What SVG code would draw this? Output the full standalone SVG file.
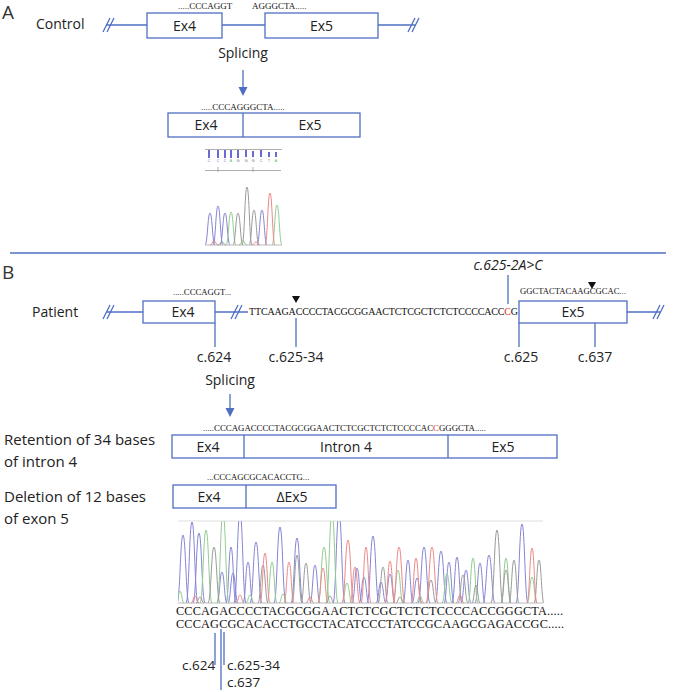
<svg xmlns="http://www.w3.org/2000/svg" xmlns:xlink="http://www.w3.org/1999/xlink" width="673" height="692" viewBox="0 0 673 692">
<style>
.ln{stroke:#4f6fc4;stroke-width:1.3;fill:none}
.box{fill:#fff;stroke:#4f6fc4;stroke-width:1.3}
.lab{font-family:"Open Sans",sans-serif;font-size:14px;fill:#222}
.lab2{font-family:"Open Sans",sans-serif;font-size:15px;fill:#222}
.lab3{font-family:"Open Sans",sans-serif;font-size:13.5px;fill:#222}
.big{font-family:"Open Sans",sans-serif;font-size:19px;fill:#333}
.seq{font-family:"Liberation Serif",serif;fill:#111}
.red{fill:#e0302a}
.pb{stroke:#8585d6;fill:none}
.pg{stroke:#92cc92;fill:none}
.pk{stroke:#9a9a9a;fill:none}
.pr{stroke:#ee8888;fill:none}
.tri{fill:#111}
.ah{fill:#4f6fc4}
</style>
<defs>
<path id="pk" d="M-1,0 C-0.5,0 -0.45,-1 0,-1 C0.45,-1 0.5,0 1,0" vector-effect="non-scaling-stroke" stroke-width="1"/>
<clipPath id="cb"><rect x="178" y="521" width="366" height="84"/></clipPath>
</defs>

<!-- Panel A -->
<text class="big" x="2" y="19">A</text>
<g id="control">
<text class="lab" x="36" y="29">Control</text>
<line class="ln" x1="106" y1="25" x2="147" y2="25"/>
<line class="ln" x1="222" y1="25" x2="265" y2="25"/>
<line class="ln" x1="378" y1="25" x2="415" y2="25"/>
<path class="ln" d="M103,32 L110,18 M107,32 L114,18"/>
<path class="ln" d="M408,32 L415,18 M412,32 L419,18"/>
</g>
<g id="ctrl-ex4">
<rect class="box" x="147" y="13" width="75" height="25"/>
<text class="lab" x="184.5" y="31" text-anchor="middle">Ex4</text>
<text class="seq" x="178" y="9" font-size="9">.....CCCAGGT</text>
</g>
<g id="ctrl-ex5">
<rect class="box" x="265" y="13" width="113" height="25"/>
<text class="lab" x="321.5" y="31" text-anchor="middle">Ex5</text>
<text class="seq" x="252" y="9" font-size="9">AGGGCTA.....</text>
</g>
<g id="splicing-a">
<text class="lab" x="243" y="58" text-anchor="middle">Splicing</text>
</g>
<g id="ctrl-spliced">
<text class="seq" x="201" y="110" font-size="9">.....CCCAGGGCTA.....</text>
<rect class="box" x="168" y="113" width="192" height="24"/>
<line class="ln" x1="243" y1="113" x2="243" y2="137"/>
<text class="lab" x="206" y="130" text-anchor="middle">Ex4</text>
<text class="lab" x="310" y="130" text-anchor="middle">Ex5</text>
</g>
<g id="chrom-a">
<line x1="205" y1="149.5" x2="282" y2="149.5" stroke="#999" stroke-width="0.8"/>
<g fill="#6a6ad0">
<rect x="208" y="150" width="2" height="8"/><rect x="217" y="150" width="2" height="8"/><rect x="224" y="150" width="2" height="8"/><rect x="230" y="150" width="2" height="8"/><rect x="237" y="150" width="2" height="8"/><rect x="245" y="150" width="2" height="7"/><rect x="252" y="151" width="2" height="6"/><rect x="260" y="150" width="2" height="7"/><rect x="268" y="152" width="2" height="5"/><rect x="275" y="152" width="2" height="5"/>
</g>
<g font-family="Liberation Sans, sans-serif" font-size="3.5" text-anchor="middle">
<text x="209" y="162" fill="#6a6ad0">C</text><text x="218" y="162" fill="#6a6ad0">C</text><text x="225" y="162" fill="#6a6ad0">C</text><text x="231" y="162" fill="#5cb85c">A</text><text x="238" y="162" fill="#555">G</text><text x="246" y="162" fill="#555">G</text><text x="253" y="162" fill="#555">G</text><text x="261" y="162" fill="#6a6ad0">C</text><text x="269" y="162" fill="#e05050">T</text><text x="276" y="162" fill="#5cb85c">A</text>
</g>
<line x1="205" y1="170.5" x2="281" y2="170.5" stroke="#999" stroke-width="0.8"/>
<path d="M218,167 V172 M253,167 V172" stroke="#999" stroke-width="0.8"/>
<use href="#pk" class="pb" transform="translate(210,245) scale(5,32)"/>
<use href="#pk" class="pb" transform="translate(218,245) scale(5,39)"/>
<use href="#pk" class="pb" transform="translate(225,245) scale(5,32)"/>
<use href="#pk" class="pb" transform="translate(262,245) scale(5,35)"/>
<use href="#pk" class="pg" transform="translate(231,245) scale(5,33)"/>
<use href="#pk" class="pg" transform="translate(277,245) scale(5,40)"/>
<use href="#pk" class="pk" transform="translate(238,245) scale(5,32)"/>
<use href="#pk" class="pk" transform="translate(247,245) scale(5,58)"/>
<use href="#pk" class="pk" transform="translate(254,245) scale(5,35)"/>
<use href="#pk" class="pr" transform="translate(270,245) scale(5,52)"/>
<use href="#pk" class="pr" transform="translate(214,245) scale(4,4)"/>
<use href="#pk" class="pg" transform="translate(243,245) scale(4,4)"/>
<use href="#pk" class="pk" transform="translate(222,245) scale(4,3)"/>
<use href="#pk" class="pr" transform="translate(256,245) scale(4,3)"/>
<line x1="205" y1="245" x2="282" y2="245" stroke="#aaa" stroke-width="0.8"/>
</g>

<line x1="10" y1="253" x2="666" y2="253" stroke="#4f6fc4" stroke-width="1.3"/>

<!-- Panel B -->
<text class="big" x="2" y="279">B</text>
<g id="patient">
<text class="lab" x="32" y="317">Patient</text>
<line class="ln" x1="106" y1="312" x2="143" y2="312"/>
<line class="ln" x1="215" y1="312" x2="248" y2="312"/>
<line class="ln" x1="627" y1="312" x2="660" y2="312"/>
<path class="ln" d="M103,319 L110,305 M107,319 L114,305"/>
<path class="ln" d="M231,319 L238,305 M235,319 L242,305"/>
<path class="ln" d="M653,319 L660,305 M657,319 L664,305"/>
<text class="seq" x="249" y="315" font-size="10" textLength="269" lengthAdjust="spacing">TTCAAGACCCCTACGCGGAACTCTCGCTCTCTCCCCACC<tspan class="red">C</tspan>G</text>
<path class="tri" d="M292,296 L300,296 L296,303 Z"/>
</g>
<g id="pat-ex4">
<rect class="box" x="143" y="301" width="72" height="22"/>
<text class="lab" x="183" y="317" text-anchor="middle">Ex4</text>
<text class="seq" x="173" y="295" font-size="8.7">.....CCCAGGT...</text>
</g>
<g id="pat-ex5">
<rect class="box" x="519" y="301" width="108" height="22"/>
<text class="lab" x="573" y="317" text-anchor="middle">Ex5</text>
<text class="seq" x="520" y="294" font-size="8.6">GGCTACTACAAGCGCAC...</text>
<path class="tri" d="M588,282 L596,282 L592,289 Z"/>
</g>
<g id="mutation">
<text class="lab" x="508" y="270" text-anchor="middle" font-style="italic">c.625-2A&gt;C</text>
</g>
<g id="pos-labels">
<text class="lab" x="214" y="362" text-anchor="middle">c.624</text>
<text class="lab" x="296" y="362" text-anchor="middle">c.625-34</text>
<text class="lab" x="521" y="362" text-anchor="middle">c.625</text>
<text class="lab" x="595" y="362" text-anchor="middle">c.637</text>
</g>
<g id="splicing-b">
<text class="lab" x="230" y="385" text-anchor="middle">Splicing</text>
</g>
<g id="retention">
<text class="lab2" x="4" y="445">Retention of 34 bases</text>
<text class="lab2" x="4" y="467">of intron 4</text>
<text class="seq" x="203" y="431" font-size="8.8" textLength="283" lengthAdjust="spacing">.....CCCAGACCCCTACGCGGAACTCTCGCTCTCTCCCCAC<tspan class="red">C</tspan>GGGCTA.....</text>
<rect class="box" x="172" y="435" width="385" height="23"/>
<line class="ln" x1="244" y1="435" x2="244" y2="458"/>
<line class="ln" x1="448" y1="435" x2="448" y2="458"/>
<text class="lab" x="208" y="452" text-anchor="middle">Ex4</text>
<text class="lab" x="346" y="452" text-anchor="middle">Intron 4</text>
<text class="lab" x="503" y="452" text-anchor="middle">Ex5</text>
</g>
<g id="deletion">
<text class="lab2" x="4" y="502">Deletion of 12 bases</text>
<text class="lab2" x="4" y="524">of exon 5</text>
<text class="seq" x="207" y="480" font-size="8.7">...CCCAGCGCACACCTG...</text>
<rect class="box" x="173" y="485" width="163" height="23"/>
<line class="ln" x1="246" y1="485" x2="246" y2="508"/>
<text class="lab" x="209" y="502" text-anchor="middle">Ex4</text>
<text class="lab" x="292" y="502" text-anchor="middle">ΔEx5</text>
</g>
<g id="chrom-b">
<line x1="178" y1="521" x2="543" y2="521" stroke="#ddd" stroke-width="1"/>
<g clip-path="url(#cb)">
<use href="#pk" class="pb" transform="translate(183,603) scale(6,68)"/>
<use href="#pk" class="pb" transform="translate(192,603) scale(6,81)"/>
<use href="#pk" class="pb" transform="translate(199,603) scale(6,70)"/>
<use href="#pk" class="pb" transform="translate(222,603) scale(5,31)"/>
<use href="#pk" class="pb" transform="translate(231,603) scale(5,56)"/>
<use href="#pk" class="pb" transform="translate(233,603) scale(5,30)"/>
<use href="#pk" class="pb" transform="translate(240,603) scale(6,90)"/>
<use href="#pk" class="pb" transform="translate(248,603) scale(5,41)"/>
<use href="#pk" class="pb" transform="translate(256,603) scale(6,61)"/>
<use href="#pk" class="pb" transform="translate(280,603) scale(6,76)"/>
<use href="#pk" class="pb" transform="translate(297,603) scale(6,65)"/>
<use href="#pk" class="pb" transform="translate(315,603) scale(5,38)"/>
<use href="#pk" class="pb" transform="translate(339,603) scale(6,90)"/>
<use href="#pk" class="pb" transform="translate(357,603) scale(5,35)"/>
<use href="#pk" class="pb" transform="translate(364,603) scale(5,26)"/>
<use href="#pk" class="pb" transform="translate(373,603) scale(6,67)"/>
<use href="#pk" class="pb" transform="translate(381,603) scale(5,21)"/>
<use href="#pk" class="pb" transform="translate(390,603) scale(5,29)"/>
<use href="#pk" class="pb" transform="translate(408,603) scale(5,43)"/>
<use href="#pk" class="pb" transform="translate(417,603) scale(5,25)"/>
<use href="#pk" class="pb" transform="translate(424,603) scale(6,56)"/>
<use href="#pk" class="pb" transform="translate(441,603) scale(6,52)"/>
<use href="#pk" class="pb" transform="translate(449,603) scale(5,41)"/>
<use href="#pk" class="pb" transform="translate(457,603) scale(5,46)"/>
<use href="#pk" class="pb" transform="translate(466,603) scale(5,33)"/>
<use href="#pk" class="pb" transform="translate(480,603) scale(5,40)"/>
<use href="#pk" class="pb" transform="translate(489,603) scale(6,48)"/>
<use href="#pk" class="pb" transform="translate(522,603) scale(6,79)"/>
<use href="#pk" class="pg" transform="translate(206,603) scale(6,73)"/>
<use href="#pk" class="pg" transform="translate(223,603) scale(6,90)"/>
<use href="#pk" class="pg" transform="translate(272,603) scale(5,41)"/>
<use href="#pk" class="pg" transform="translate(324,603) scale(6,56)"/>
<use href="#pk" class="pg" transform="translate(332,603) scale(6,90)"/>
<use href="#pk" class="pg" transform="translate(347,603) scale(5,20)"/>
<use href="#pk" class="pg" transform="translate(398,603) scale(5,33)"/>
<use href="#pk" class="pg" transform="translate(447,603) scale(5,29)"/>
<use href="#pk" class="pg" transform="translate(473,603) scale(5,45)"/>
<use href="#pk" class="pg" transform="translate(506,603) scale(5,45)"/>
<use href="#pk" class="pg" transform="translate(532,603) scale(5,26)"/>
<use href="#pk" class="pg" transform="translate(180,603) scale(4,12)"/>
<use href="#pk" class="pg" transform="translate(250,603) scale(4,8)"/>
<use href="#pk" class="pg" transform="translate(283,603) scale(4,9)"/>
<use href="#pk" class="pg" transform="translate(420,603) scale(4,7)"/>
<use href="#pk" class="pk" transform="translate(214,603) scale(6,56)"/>
<use href="#pk" class="pk" transform="translate(263,603) scale(5,38)"/>
<use href="#pk" class="pk" transform="translate(297,603) scale(5,48)"/>
<use href="#pk" class="pk" transform="translate(306,603) scale(5,40)"/>
<use href="#pk" class="pk" transform="translate(383,603) scale(5,36)"/>
<use href="#pk" class="pk" transform="translate(431,603) scale(5,23)"/>
<use href="#pk" class="pk" transform="translate(463,603) scale(5,28)"/>
<use href="#pk" class="pk" transform="translate(476,603) scale(4,18)"/>
<use href="#pk" class="pk" transform="translate(497,603) scale(6,73)"/>
<use href="#pk" class="pk" transform="translate(506,603) scale(5,33)"/>
<use href="#pk" class="pk" transform="translate(514,603) scale(5,43)"/>
<use href="#pk" class="pk" transform="translate(539,603) scale(5,43)"/>
<use href="#pk" class="pk" transform="translate(200,603) scale(4,6)"/>
<use href="#pk" class="pk" transform="translate(330,603) scale(4,7)"/>
<use href="#pk" class="pk" transform="translate(400,603) scale(4,6)"/>
<use href="#pk" class="pr" transform="translate(265,603) scale(5,50)"/>
<use href="#pk" class="pr" transform="translate(289,603) scale(5,41)"/>
<use href="#pk" class="pr" transform="translate(323,603) scale(5,35)"/>
<use href="#pk" class="pr" transform="translate(348,603) scale(6,63)"/>
<use href="#pk" class="pr" transform="translate(355,603) scale(5,36)"/>
<use href="#pk" class="pr" transform="translate(366,603) scale(5,56)"/>
<use href="#pk" class="pr" transform="translate(390,603) scale(5,42)"/>
<use href="#pk" class="pr" transform="translate(399,603) scale(6,56)"/>
<use href="#pk" class="pr" transform="translate(416,603) scale(5,45)"/>
<use href="#pk" class="pr" transform="translate(432,603) scale(6,56)"/>
<use href="#pk" class="pr" transform="translate(532,603) scale(5,55)"/>
<use href="#pk" class="pr" transform="translate(195,603) scale(4,7)"/>
<use href="#pk" class="pr" transform="translate(240,603) scale(4,8)"/>
<use href="#pk" class="pr" transform="translate(310,603) scale(4,6)"/>
<use href="#pk" class="pr" transform="translate(460,603) scale(4,8)"/>
</g>
<line x1="178" y1="603" x2="543" y2="603" stroke="#aaa" stroke-width="0.8"/>
</g>
<g id="bottom-seq">
<text class="seq" x="176" y="615" font-size="12.3" textLength="387" lengthAdjust="spacing">CCCAGACCCCTACGCGGAACTCTCGCTCTCTCCCCACCGGGCTA.....</text>
<text class="seq" x="176" y="628" font-size="12.3" textLength="388" lengthAdjust="spacing">CCCAGCGCACACCTGCCTACATCCCTATCCGCAAGCGAGACCGC.....</text>
<text class="lab3" x="182" y="670">c.624</text>
<text class="lab3" x="227" y="670">c.625-34</text>
<text class="lab3" x="227" y="687">c.637</text>
</g>

<g id="connectors">
<line class="ln" x1="243" y1="70" x2="243" y2="88"/>
<path class="ah" d="M238.5,87 L247.5,87 L243,96 Z"/>
<line class="ln" x1="230" y1="394" x2="230" y2="409"/>
<path class="ah" d="M225.5,408 L234.5,408 L230,417 Z"/>
<line class="ln" x1="508" y1="275" x2="508" y2="304"/>
<line class="ln" x1="215" y1="323" x2="215" y2="347"/>
<line class="ln" x1="296" y1="318" x2="296" y2="347"/>
<line class="ln" x1="519" y1="323" x2="519" y2="347"/>
<line class="ln" x1="595" y1="323" x2="595" y2="347"/>
<line class="ln" x1="215" y1="633" x2="215" y2="665"/>
<line class="ln" x1="221" y1="629" x2="221" y2="690"/>
<line class="ln" x1="224" y1="632" x2="224" y2="665"/>
</g>
</svg>
